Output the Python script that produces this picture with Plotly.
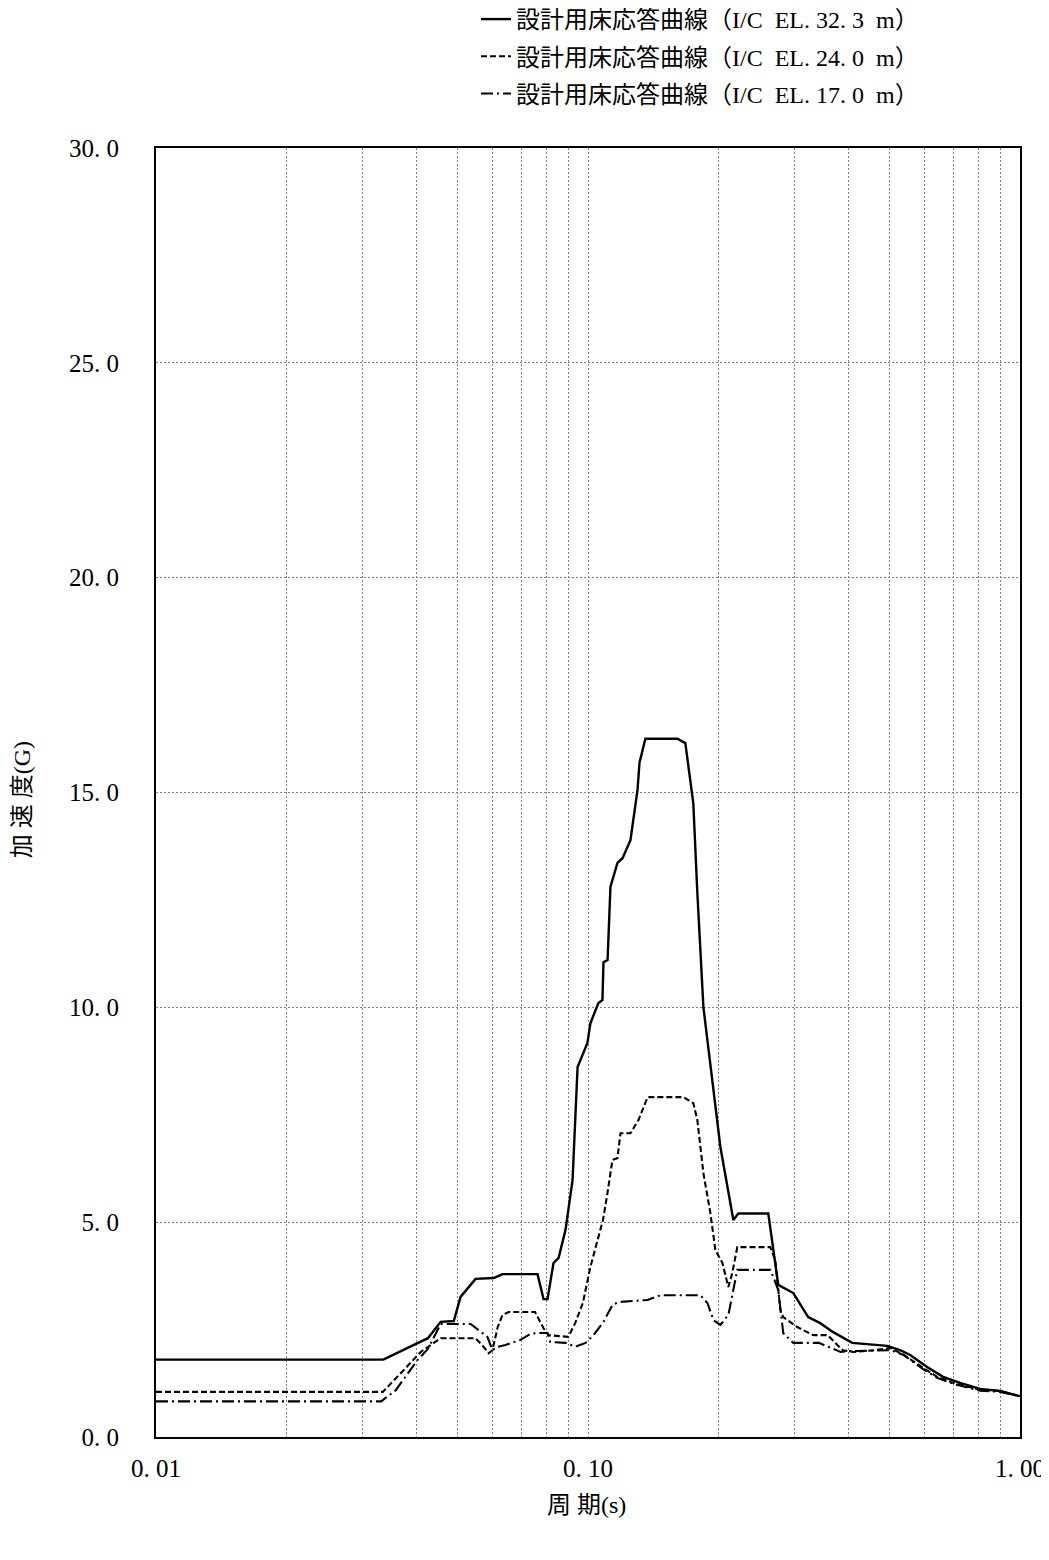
import plotly.graph_objects as go

# ---- data (period in s, acceleration in G) ----
period_323 = [0.01, 0.0336, 0.0426, 0.0456, 0.0489, 0.0507, 0.0549, 0.0605, 0.0634, 0.0764,
              0.0789, 0.0806, 0.0832, 0.0855, 0.0887, 0.0921, 0.0946, 0.0976, 0.0997, 0.1013,
              0.1041, 0.1057, 0.1080, 0.1086, 0.1110, 0.1127, 0.1170, 0.1202, 0.1254, 0.1274,
              0.1302, 0.1316, 0.1358, 0.1610, 0.1680, 0.1753, 0.1791, 0.1850, 0.1890, 0.2025,
              0.2170, 0.2228, 0.2614, 0.2757, 0.2987, 0.3234, 0.3448, 0.3695, 0.4089, 0.4927,
              0.5280, 0.5570, 0.6095, 0.6637, 0.7267, 0.8083, 0.8990, 1.0]
accel_323 = [1.80, 1.80, 2.30, 2.68, 2.70, 3.26, 3.68, 3.70, 3.79, 3.79,
             3.21, 3.21, 4.05, 4.17, 4.82, 5.98, 8.61, 8.94, 9.17, 9.63,
             9.94, 10.10, 10.17, 11.05, 11.10, 12.80, 13.36, 13.47, 13.89, 14.43,
             15.06, 15.70, 16.25, 16.25, 16.15, 14.75, 12.66, 10.00, 9.24, 6.75,
             5.05, 5.20, 5.20, 3.54, 3.35, 2.79, 2.65, 2.44, 2.19, 2.12,
             2.02, 1.91, 1.63, 1.40, 1.26, 1.12, 1.07, 0.95]

period_240 = [0.01, 0.0335, 0.0369, 0.0410, 0.0456, 0.0549, 0.0573, 0.0589, 0.0601, 0.0618,
              0.0634, 0.0655, 0.0754, 0.0789, 0.0810, 0.0900, 0.0934, 0.0973, 0.1013, 0.1055,
              0.1083, 0.1106, 0.1139, 0.1170, 0.1189, 0.1254, 0.1309, 0.1374, 0.1663, 0.1753,
              0.1791, 0.1850, 0.1920, 0.1972, 0.2047, 0.2113, 0.2158, 0.2216, 0.2642, 0.2713,
              0.2787, 0.2831, 0.3051, 0.3322, 0.3588, 0.3886, 0.4121, 0.4585, 0.5019, 0.5378,
              0.5966, 0.6428, 0.6999, 0.8083, 0.8990, 1.0]
accel_240 = [1.05, 1.05, 1.49, 1.98, 2.30, 2.30, 2.10, 1.95, 2.02, 2.56,
             2.84, 2.91, 2.91, 2.53, 2.37, 2.33, 2.65, 3.12, 3.96, 4.65,
             5.05, 5.59, 6.45, 6.49, 7.07, 7.07, 7.38, 7.91, 7.91, 7.77,
             7.38, 6.14, 5.21, 4.35, 4.05, 3.49, 3.82, 4.42, 4.42, 4.12,
             2.96, 2.79, 2.56, 2.37, 2.37, 2.02, 1.98, 2.02, 2.07, 1.91,
             1.61, 1.40, 1.26, 1.10, 1.07, 0.95]

period_170 = [0.01, 0.0332, 0.0359, 0.0403, 0.0426, 0.0456, 0.0535, 0.0585, 0.0601, 0.0618,
              0.0644, 0.0698, 0.0736, 0.0764, 0.0806, 0.0818, 0.0887, 0.0934, 0.0987, 0.1030,
              0.1086, 0.1139, 0.1176, 0.1374, 0.1471, 0.1820, 0.1890, 0.1951, 0.2025, 0.2113,
              0.2216, 0.2642, 0.2691, 0.2757, 0.2831, 0.2987, 0.3424, 0.3843, 0.4046, 0.5019,
              0.5378, 0.5966, 0.6428, 0.6999, 0.8083, 0.8990, 1.0]
accel_170 = [0.83, 0.83, 1.09, 1.79, 2.05, 2.63, 2.63, 2.33, 2.02, 2.10,
             2.14, 2.26, 2.40, 2.42, 2.42, 2.21, 2.19, 2.10, 2.19, 2.37,
             2.68, 3.07, 3.14, 3.19, 3.30, 3.30, 3.12, 2.72, 2.61, 2.84,
             3.89, 3.89, 3.70, 3.42, 2.42, 2.19, 2.19, 1.98, 2.00, 2.02,
             1.91, 1.58, 1.38, 1.24, 1.08, 1.05, 0.95]

series_names = ["設計用床応答曲線（I/C\u00a0 EL. 32. 3\u00a0 m）",
                "設計用床応答曲線（I/C\u00a0 EL. 24. 0\u00a0 m）",
                "設計用床応答曲線（I/C\u00a0 EL. 17. 0\u00a0 m）"]

x_tickvals = [0.01, 0.02, 0.03, 0.04, 0.05, 0.06, 0.07, 0.08, 0.09,
              0.1, 0.2, 0.3, 0.4, 0.5, 0.6, 0.7, 0.8, 0.9, 1.0]
x_ticktext = ["0. 01", "", "", "", "", "", "", "", "",
              "0. 10", "", "", "", "", "", "", "", "", "1. 00"]
y_tickvals = [0, 5, 10, 15, 20, 25, 30]
y_ticktext = ["0. 0", "5. 0", "10. 0", "15. 0", "20. 0", "25. 0", "30. 0"]
x_title = "周 期(s)"
y_title = "加 速 度(G)"

FONT = "Liberation Serif, Noto Sans CJK JP, serif"

fig = go.Figure()
styles = [("solid", 2.4), ("6px,3px", 2.1), ("12px,4px,2px,4px", 2.1)]
for i, (px, py) in enumerate([(period_323, accel_323), (period_240, accel_240), (period_170, accel_170)]):
    fig.add_trace(go.Scatter(
        x=px, y=py, mode="lines", name=series_names[i], legendgroup=str(i),
        line=dict(color="black", width=styles[i][1], dash=styles[i][0]),
    ))

W, H = 1041, 1544
L, R, T, B = 148, 29, 140, 115
PW, PH = W - L - R, H - T - B
fig.update_layout(
    width=W, height=H,
    margin=dict(l=L, r=R, t=T, b=B, autoexpand=False),
    paper_bgcolor="white", plot_bgcolor="white",
    font=dict(family=FONT, size=22, color="black"),
    showlegend=True,
    legend=dict(
        xref="paper", yref="paper",
        x=(468 - L) / PW, xanchor="left", y=1 + (T + 11) / PH, yanchor="top",
        bgcolor="rgba(0,0,0,0)", borderwidth=0,
        font=dict(family=FONT, size=24, color="black"),
        tracegroupgap=3, itemwidth=30,
    ),
    xaxis=dict(
        type="log", range=[-2, 0],
        tickvals=x_tickvals, ticktext=x_ticktext, ticks="",
        showgrid=True, gridcolor="#808080", gridwidth=1, griddash="2px,2px",
        showline=True, linecolor="black", linewidth=2, mirror=True,
        zeroline=False, tickfont=dict(size=25), ticklabelstandoff=8,
        ticklabeloverflow="allow",
    ),
    yaxis=dict(
        range=[0, 30], tickvals=y_tickvals, ticktext=y_ticktext, ticks="",
        showgrid=True, gridcolor="#808080", gridwidth=1, griddash="2px,2px",
        showline=True, linecolor="black", linewidth=2, mirror=True,
        zeroline=False, tickfont=dict(size=25), ticklabelstandoff=30,
        ticklabeloverflow="allow",
    ),
    annotations=[
        dict(text=x_title, xref="paper", yref="paper", x=0.4988, y=0,
             xanchor="center", yanchor="middle", yshift=-68, showarrow=False,
             font=dict(family=FONT, size=24, color="black")),
        dict(text=y_title, xref="paper", yref="paper", x=0, y=0.494,
             xanchor="center", yanchor="middle", xshift=-134, textangle=-90,
             showarrow=False, font=dict(family=FONT, size=24, color="black")),
    ],
)

fig.write_html("out.html")
